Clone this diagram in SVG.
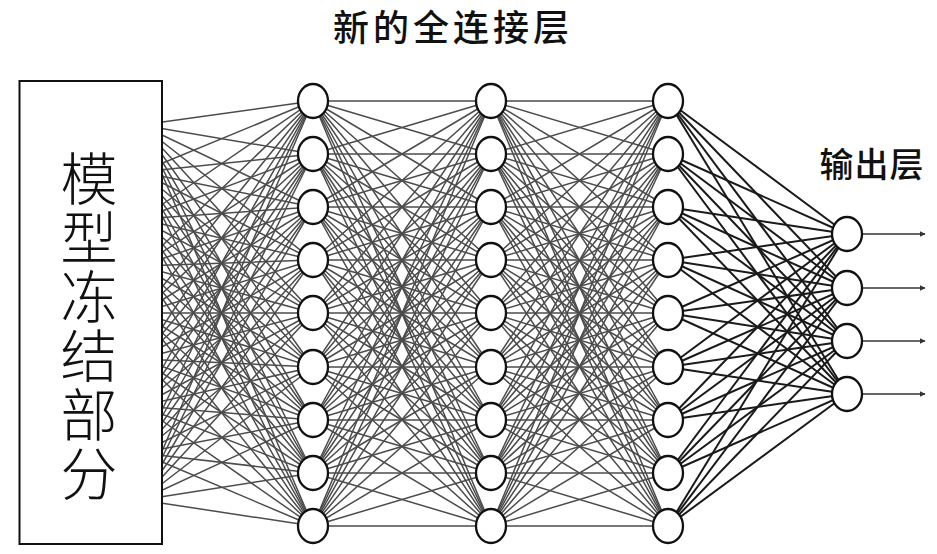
<svg xmlns="http://www.w3.org/2000/svg" width="937" height="554" viewBox="0 0 937 554">
<style>
.t{font-family:"Noto Sans CJK SC","Noto Sans",sans-serif;fill:#111}
.c line{stroke:#4c4c4c;stroke-width:1.5;stroke-linecap:round}
.o line{stroke:#1a1a1a;stroke-width:2}
.n{fill:#fff;stroke:#111;stroke-width:2.3}
.ar{stroke:#333;stroke-width:1.6}
</style>
<defs>
<marker id="ah" viewBox="0 0 10 10" refX="9" refY="5" markerWidth="6" markerHeight="6" markerUnits="userSpaceOnUse" orient="auto"><path d="M0 0L10 5L0 10z" fill="#333"/></marker>
</defs>
<g id="connectors">
<g class="c">
<line x1="141" y1="125" x2="313" y2="101"/><line x1="141" y1="125" x2="313" y2="154"/><line x1="141" y1="125" x2="313" y2="207"/><line x1="141" y1="125" x2="313" y2="260"/><line x1="141" y1="125" x2="313" y2="313"/><line x1="141" y1="125" x2="313" y2="367"/><line x1="141" y1="125" x2="313" y2="420"/><line x1="141" y1="125" x2="313" y2="473"/><line x1="141" y1="125" x2="313" y2="526"/>
<line x1="141" y1="172" x2="313" y2="101"/><line x1="141" y1="172" x2="313" y2="154"/><line x1="141" y1="172" x2="313" y2="207"/><line x1="141" y1="172" x2="313" y2="260"/><line x1="141" y1="172" x2="313" y2="313"/><line x1="141" y1="172" x2="313" y2="367"/><line x1="141" y1="172" x2="313" y2="420"/><line x1="141" y1="172" x2="313" y2="473"/><line x1="141" y1="172" x2="313" y2="526"/>
<line x1="141" y1="219" x2="313" y2="101"/><line x1="141" y1="219" x2="313" y2="154"/><line x1="141" y1="219" x2="313" y2="207"/><line x1="141" y1="219" x2="313" y2="260"/><line x1="141" y1="219" x2="313" y2="313"/><line x1="141" y1="219" x2="313" y2="367"/><line x1="141" y1="219" x2="313" y2="420"/><line x1="141" y1="219" x2="313" y2="473"/><line x1="141" y1="219" x2="313" y2="526"/>
<line x1="141" y1="266" x2="313" y2="101"/><line x1="141" y1="266" x2="313" y2="154"/><line x1="141" y1="266" x2="313" y2="207"/><line x1="141" y1="266" x2="313" y2="260"/><line x1="141" y1="266" x2="313" y2="313"/><line x1="141" y1="266" x2="313" y2="367"/><line x1="141" y1="266" x2="313" y2="420"/><line x1="141" y1="266" x2="313" y2="473"/><line x1="141" y1="266" x2="313" y2="526"/>
<line x1="141" y1="313" x2="313" y2="101"/><line x1="141" y1="313" x2="313" y2="154"/><line x1="141" y1="313" x2="313" y2="207"/><line x1="141" y1="313" x2="313" y2="260"/><line x1="141" y1="313" x2="313" y2="313"/><line x1="141" y1="313" x2="313" y2="367"/><line x1="141" y1="313" x2="313" y2="420"/><line x1="141" y1="313" x2="313" y2="473"/><line x1="141" y1="313" x2="313" y2="526"/>
<line x1="141" y1="359" x2="313" y2="101"/><line x1="141" y1="359" x2="313" y2="154"/><line x1="141" y1="359" x2="313" y2="207"/><line x1="141" y1="359" x2="313" y2="260"/><line x1="141" y1="359" x2="313" y2="313"/><line x1="141" y1="359" x2="313" y2="367"/><line x1="141" y1="359" x2="313" y2="420"/><line x1="141" y1="359" x2="313" y2="473"/><line x1="141" y1="359" x2="313" y2="526"/>
<line x1="141" y1="406" x2="313" y2="101"/><line x1="141" y1="406" x2="313" y2="154"/><line x1="141" y1="406" x2="313" y2="207"/><line x1="141" y1="406" x2="313" y2="260"/><line x1="141" y1="406" x2="313" y2="313"/><line x1="141" y1="406" x2="313" y2="367"/><line x1="141" y1="406" x2="313" y2="420"/><line x1="141" y1="406" x2="313" y2="473"/><line x1="141" y1="406" x2="313" y2="526"/>
<line x1="141" y1="453" x2="313" y2="101"/><line x1="141" y1="453" x2="313" y2="154"/><line x1="141" y1="453" x2="313" y2="207"/><line x1="141" y1="453" x2="313" y2="260"/><line x1="141" y1="453" x2="313" y2="313"/><line x1="141" y1="453" x2="313" y2="367"/><line x1="141" y1="453" x2="313" y2="420"/><line x1="141" y1="453" x2="313" y2="473"/><line x1="141" y1="453" x2="313" y2="526"/>
<line x1="141" y1="500" x2="313" y2="101"/><line x1="141" y1="500" x2="313" y2="154"/><line x1="141" y1="500" x2="313" y2="207"/><line x1="141" y1="500" x2="313" y2="260"/><line x1="141" y1="500" x2="313" y2="313"/><line x1="141" y1="500" x2="313" y2="367"/><line x1="141" y1="500" x2="313" y2="420"/><line x1="141" y1="500" x2="313" y2="473"/><line x1="141" y1="500" x2="313" y2="526"/>

<line x1="313" y1="101" x2="491" y2="101"/><line x1="313" y1="101" x2="491" y2="154"/><line x1="313" y1="101" x2="491" y2="207"/><line x1="313" y1="101" x2="491" y2="260"/><line x1="313" y1="101" x2="491" y2="313"/><line x1="313" y1="101" x2="491" y2="367"/><line x1="313" y1="101" x2="491" y2="420"/><line x1="313" y1="101" x2="491" y2="473"/><line x1="313" y1="101" x2="491" y2="526"/>
<line x1="313" y1="154" x2="491" y2="101"/><line x1="313" y1="154" x2="491" y2="154"/><line x1="313" y1="154" x2="491" y2="207"/><line x1="313" y1="154" x2="491" y2="260"/><line x1="313" y1="154" x2="491" y2="313"/><line x1="313" y1="154" x2="491" y2="367"/><line x1="313" y1="154" x2="491" y2="420"/><line x1="313" y1="154" x2="491" y2="473"/><line x1="313" y1="154" x2="491" y2="526"/>
<line x1="313" y1="207" x2="491" y2="101"/><line x1="313" y1="207" x2="491" y2="154"/><line x1="313" y1="207" x2="491" y2="207"/><line x1="313" y1="207" x2="491" y2="260"/><line x1="313" y1="207" x2="491" y2="313"/><line x1="313" y1="207" x2="491" y2="367"/><line x1="313" y1="207" x2="491" y2="420"/><line x1="313" y1="207" x2="491" y2="473"/><line x1="313" y1="207" x2="491" y2="526"/>
<line x1="313" y1="260" x2="491" y2="101"/><line x1="313" y1="260" x2="491" y2="154"/><line x1="313" y1="260" x2="491" y2="207"/><line x1="313" y1="260" x2="491" y2="260"/><line x1="313" y1="260" x2="491" y2="313"/><line x1="313" y1="260" x2="491" y2="367"/><line x1="313" y1="260" x2="491" y2="420"/><line x1="313" y1="260" x2="491" y2="473"/><line x1="313" y1="260" x2="491" y2="526"/>
<line x1="313" y1="313" x2="491" y2="101"/><line x1="313" y1="313" x2="491" y2="154"/><line x1="313" y1="313" x2="491" y2="207"/><line x1="313" y1="313" x2="491" y2="260"/><line x1="313" y1="313" x2="491" y2="313"/><line x1="313" y1="313" x2="491" y2="367"/><line x1="313" y1="313" x2="491" y2="420"/><line x1="313" y1="313" x2="491" y2="473"/><line x1="313" y1="313" x2="491" y2="526"/>
<line x1="313" y1="367" x2="491" y2="101"/><line x1="313" y1="367" x2="491" y2="154"/><line x1="313" y1="367" x2="491" y2="207"/><line x1="313" y1="367" x2="491" y2="260"/><line x1="313" y1="367" x2="491" y2="313"/><line x1="313" y1="367" x2="491" y2="367"/><line x1="313" y1="367" x2="491" y2="420"/><line x1="313" y1="367" x2="491" y2="473"/><line x1="313" y1="367" x2="491" y2="526"/>
<line x1="313" y1="420" x2="491" y2="101"/><line x1="313" y1="420" x2="491" y2="154"/><line x1="313" y1="420" x2="491" y2="207"/><line x1="313" y1="420" x2="491" y2="260"/><line x1="313" y1="420" x2="491" y2="313"/><line x1="313" y1="420" x2="491" y2="367"/><line x1="313" y1="420" x2="491" y2="420"/><line x1="313" y1="420" x2="491" y2="473"/><line x1="313" y1="420" x2="491" y2="526"/>
<line x1="313" y1="473" x2="491" y2="101"/><line x1="313" y1="473" x2="491" y2="154"/><line x1="313" y1="473" x2="491" y2="207"/><line x1="313" y1="473" x2="491" y2="260"/><line x1="313" y1="473" x2="491" y2="313"/><line x1="313" y1="473" x2="491" y2="367"/><line x1="313" y1="473" x2="491" y2="420"/><line x1="313" y1="473" x2="491" y2="473"/><line x1="313" y1="473" x2="491" y2="526"/>
<line x1="313" y1="526" x2="491" y2="101"/><line x1="313" y1="526" x2="491" y2="154"/><line x1="313" y1="526" x2="491" y2="207"/><line x1="313" y1="526" x2="491" y2="260"/><line x1="313" y1="526" x2="491" y2="313"/><line x1="313" y1="526" x2="491" y2="367"/><line x1="313" y1="526" x2="491" y2="420"/><line x1="313" y1="526" x2="491" y2="473"/><line x1="313" y1="526" x2="491" y2="526"/>

<line x1="491" y1="101" x2="668" y2="101"/><line x1="491" y1="101" x2="668" y2="154"/><line x1="491" y1="101" x2="668" y2="207"/><line x1="491" y1="101" x2="668" y2="260"/><line x1="491" y1="101" x2="668" y2="313"/><line x1="491" y1="101" x2="668" y2="367"/><line x1="491" y1="101" x2="668" y2="420"/><line x1="491" y1="101" x2="668" y2="473"/><line x1="491" y1="101" x2="668" y2="526"/>
<line x1="491" y1="154" x2="668" y2="101"/><line x1="491" y1="154" x2="668" y2="154"/><line x1="491" y1="154" x2="668" y2="207"/><line x1="491" y1="154" x2="668" y2="260"/><line x1="491" y1="154" x2="668" y2="313"/><line x1="491" y1="154" x2="668" y2="367"/><line x1="491" y1="154" x2="668" y2="420"/><line x1="491" y1="154" x2="668" y2="473"/><line x1="491" y1="154" x2="668" y2="526"/>
<line x1="491" y1="207" x2="668" y2="101"/><line x1="491" y1="207" x2="668" y2="154"/><line x1="491" y1="207" x2="668" y2="207"/><line x1="491" y1="207" x2="668" y2="260"/><line x1="491" y1="207" x2="668" y2="313"/><line x1="491" y1="207" x2="668" y2="367"/><line x1="491" y1="207" x2="668" y2="420"/><line x1="491" y1="207" x2="668" y2="473"/><line x1="491" y1="207" x2="668" y2="526"/>
<line x1="491" y1="260" x2="668" y2="101"/><line x1="491" y1="260" x2="668" y2="154"/><line x1="491" y1="260" x2="668" y2="207"/><line x1="491" y1="260" x2="668" y2="260"/><line x1="491" y1="260" x2="668" y2="313"/><line x1="491" y1="260" x2="668" y2="367"/><line x1="491" y1="260" x2="668" y2="420"/><line x1="491" y1="260" x2="668" y2="473"/><line x1="491" y1="260" x2="668" y2="526"/>
<line x1="491" y1="313" x2="668" y2="101"/><line x1="491" y1="313" x2="668" y2="154"/><line x1="491" y1="313" x2="668" y2="207"/><line x1="491" y1="313" x2="668" y2="260"/><line x1="491" y1="313" x2="668" y2="313"/><line x1="491" y1="313" x2="668" y2="367"/><line x1="491" y1="313" x2="668" y2="420"/><line x1="491" y1="313" x2="668" y2="473"/><line x1="491" y1="313" x2="668" y2="526"/>
<line x1="491" y1="367" x2="668" y2="101"/><line x1="491" y1="367" x2="668" y2="154"/><line x1="491" y1="367" x2="668" y2="207"/><line x1="491" y1="367" x2="668" y2="260"/><line x1="491" y1="367" x2="668" y2="313"/><line x1="491" y1="367" x2="668" y2="367"/><line x1="491" y1="367" x2="668" y2="420"/><line x1="491" y1="367" x2="668" y2="473"/><line x1="491" y1="367" x2="668" y2="526"/>
<line x1="491" y1="420" x2="668" y2="101"/><line x1="491" y1="420" x2="668" y2="154"/><line x1="491" y1="420" x2="668" y2="207"/><line x1="491" y1="420" x2="668" y2="260"/><line x1="491" y1="420" x2="668" y2="313"/><line x1="491" y1="420" x2="668" y2="367"/><line x1="491" y1="420" x2="668" y2="420"/><line x1="491" y1="420" x2="668" y2="473"/><line x1="491" y1="420" x2="668" y2="526"/>
<line x1="491" y1="473" x2="668" y2="101"/><line x1="491" y1="473" x2="668" y2="154"/><line x1="491" y1="473" x2="668" y2="207"/><line x1="491" y1="473" x2="668" y2="260"/><line x1="491" y1="473" x2="668" y2="313"/><line x1="491" y1="473" x2="668" y2="367"/><line x1="491" y1="473" x2="668" y2="420"/><line x1="491" y1="473" x2="668" y2="473"/><line x1="491" y1="473" x2="668" y2="526"/>
<line x1="491" y1="526" x2="668" y2="101"/><line x1="491" y1="526" x2="668" y2="154"/><line x1="491" y1="526" x2="668" y2="207"/><line x1="491" y1="526" x2="668" y2="260"/><line x1="491" y1="526" x2="668" y2="313"/><line x1="491" y1="526" x2="668" y2="367"/><line x1="491" y1="526" x2="668" y2="420"/><line x1="491" y1="526" x2="668" y2="473"/><line x1="491" y1="526" x2="668" y2="526"/>
</g>
<g class="o">
<line x1="668" y1="101" x2="847" y2="234"/><line x1="668" y1="101" x2="847" y2="288"/><line x1="668" y1="101" x2="847" y2="341"/><line x1="668" y1="101" x2="847" y2="394"/>
<line x1="668" y1="154" x2="847" y2="234"/><line x1="668" y1="154" x2="847" y2="288"/><line x1="668" y1="154" x2="847" y2="341"/><line x1="668" y1="154" x2="847" y2="394"/>
<line x1="668" y1="207" x2="847" y2="234"/><line x1="668" y1="207" x2="847" y2="288"/><line x1="668" y1="207" x2="847" y2="341"/><line x1="668" y1="207" x2="847" y2="394"/>
<line x1="668" y1="260" x2="847" y2="234"/><line x1="668" y1="260" x2="847" y2="288"/><line x1="668" y1="260" x2="847" y2="341"/><line x1="668" y1="260" x2="847" y2="394"/>
<line x1="668" y1="313" x2="847" y2="234"/><line x1="668" y1="313" x2="847" y2="288"/><line x1="668" y1="313" x2="847" y2="341"/><line x1="668" y1="313" x2="847" y2="394"/>
<line x1="668" y1="367" x2="847" y2="234"/><line x1="668" y1="367" x2="847" y2="288"/><line x1="668" y1="367" x2="847" y2="341"/><line x1="668" y1="367" x2="847" y2="394"/>
<line x1="668" y1="420" x2="847" y2="234"/><line x1="668" y1="420" x2="847" y2="288"/><line x1="668" y1="420" x2="847" y2="341"/><line x1="668" y1="420" x2="847" y2="394"/>
<line x1="668" y1="473" x2="847" y2="234"/><line x1="668" y1="473" x2="847" y2="288"/><line x1="668" y1="473" x2="847" y2="341"/><line x1="668" y1="473" x2="847" y2="394"/>
<line x1="668" y1="526" x2="847" y2="234"/><line x1="668" y1="526" x2="847" y2="288"/><line x1="668" y1="526" x2="847" y2="341"/><line x1="668" y1="526" x2="847" y2="394"/>
</g>
<g id="outputs">
<line class="ar" x1="862" y1="234" x2="925" y2="234" marker-end="url(#ah)"/>
<line class="ar" x1="862" y1="288" x2="925" y2="288" marker-end="url(#ah)"/>
<line class="ar" x1="862" y1="341" x2="925" y2="341" marker-end="url(#ah)"/>
<line class="ar" x1="862" y1="394" x2="925" y2="394" marker-end="url(#ah)"/>
</g>
</g>
<g id="frozen">
<rect x="19.5" y="81" width="142.5" height="463" fill="#fff" stroke="#111" stroke-width="2"/>
<text class="t" x="89" y="150" font-size="57" font-weight="300" writing-mode="vertical-rl" letter-spacing="2">模型冻结部分</text>
</g>
<g id="layer1">
<ellipse class="n" cx="313" cy="101" rx="15" ry="17"/><ellipse class="n" cx="313" cy="154" rx="15" ry="17"/><ellipse class="n" cx="313" cy="207" rx="15" ry="17"/><ellipse class="n" cx="313" cy="260" rx="15" ry="17"/><ellipse class="n" cx="313" cy="313" rx="15" ry="17"/><ellipse class="n" cx="313" cy="367" rx="15" ry="17"/><ellipse class="n" cx="313" cy="420" rx="15" ry="17"/><ellipse class="n" cx="313" cy="473" rx="15" ry="17"/><ellipse class="n" cx="313" cy="526" rx="15" ry="17"/>
</g>
<g id="layer2">
<ellipse class="n" cx="491" cy="101" rx="15" ry="17"/><ellipse class="n" cx="491" cy="154" rx="15" ry="17"/><ellipse class="n" cx="491" cy="207" rx="15" ry="17"/><ellipse class="n" cx="491" cy="260" rx="15" ry="17"/><ellipse class="n" cx="491" cy="313" rx="15" ry="17"/><ellipse class="n" cx="491" cy="367" rx="15" ry="17"/><ellipse class="n" cx="491" cy="420" rx="15" ry="17"/><ellipse class="n" cx="491" cy="473" rx="15" ry="17"/><ellipse class="n" cx="491" cy="526" rx="15" ry="17"/>
</g>
<g id="layer3">
<ellipse class="n" cx="668" cy="101" rx="15" ry="17"/><ellipse class="n" cx="668" cy="154" rx="15" ry="17"/><ellipse class="n" cx="668" cy="207" rx="15" ry="17"/><ellipse class="n" cx="668" cy="260" rx="15" ry="17"/><ellipse class="n" cx="668" cy="313" rx="15" ry="17"/><ellipse class="n" cx="668" cy="367" rx="15" ry="17"/><ellipse class="n" cx="668" cy="420" rx="15" ry="17"/><ellipse class="n" cx="668" cy="473" rx="15" ry="17"/><ellipse class="n" cx="668" cy="526" rx="15" ry="17"/>
</g>
<g id="output-layer">
<ellipse class="n" cx="847" cy="234" rx="15" ry="17"/><ellipse class="n" cx="847" cy="288" rx="15" ry="17"/><ellipse class="n" cx="847" cy="341" rx="15" ry="17"/><ellipse class="n" cx="847" cy="394" rx="15" ry="17"/>
</g>
<g id="title">
<text class="t" x="453" y="41" font-size="36" font-weight="500" letter-spacing="4" text-anchor="middle">新的全连接层</text>
</g>
<g id="output-label">
<text class="t" x="872" y="177" font-size="34" font-weight="500" letter-spacing="1" text-anchor="middle">输出层</text>
</g>
</svg>
